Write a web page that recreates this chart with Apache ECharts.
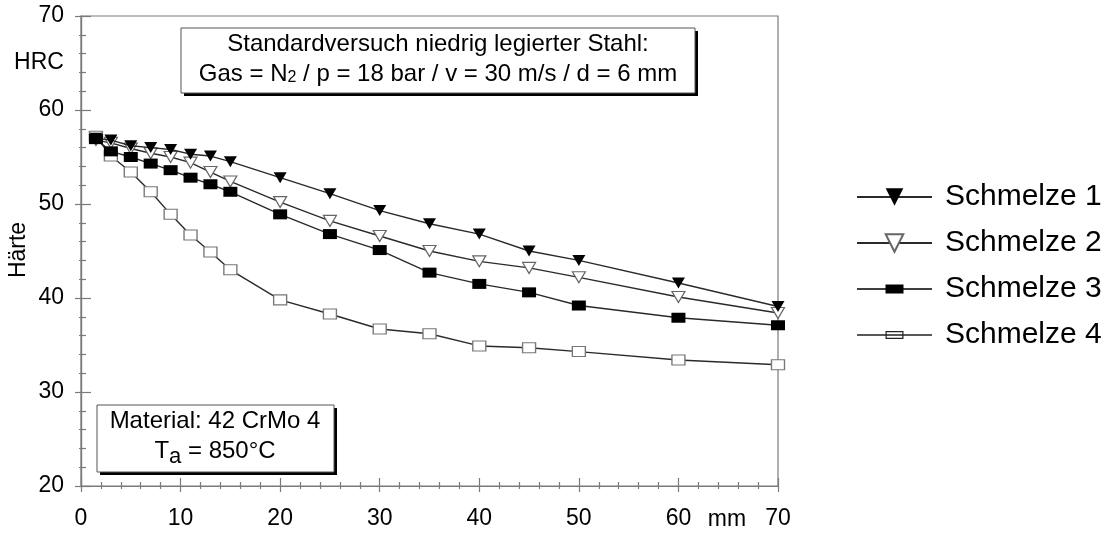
<!DOCTYPE html>
<html>
<head>
<meta charset="utf-8">
<script src="https://cdn.jsdelivr.net/npm/echarts@6/dist/echarts.min.js"></script>
<style>
  html, body { margin: 0; padding: 0; background: #fff; }
  #chart { width: 1111px; height: 536px; }
</style>
</head>
<body>
<div id="chart"></div>
<script>
// Distance from the quenched end (mm)
const distances = [1.5, 3, 5, 7, 9, 11, 13, 15, 20, 25, 30, 35, 40, 45, 50, 60, 70];

// Hardness HRC per melt
const schmelze1 = [57.0, 56.8, 56.2, 56.0, 55.8, 55.3, 55.1, 54.5, 52.8, 51.1, 49.3, 47.9, 46.8, 45.0, 44.0, 41.6, 39.1];
const schmelze2 = [56.8, 56.5, 55.9, 55.4, 55.0, 54.4, 53.4, 52.4, 50.2, 48.2, 46.6, 45.0, 43.9, 43.2, 42.2, 40.1, 38.4];
const schmelze3 = [56.9, 55.6, 55.0, 54.3, 53.6, 52.8, 52.1, 51.3, 48.9, 46.8, 45.1, 42.7, 41.5, 40.6, 39.2, 37.9, 37.1];
const schmelze4 = [57.2, 55.1, 53.4, 51.3, 48.9, 46.7, 44.9, 43.0, 39.8, 38.3, 36.7, 36.2, 34.9, 34.7, 34.3, 33.4, 32.9];

const seriesNames = ['Schmelze 1', 'Schmelze 2', 'Schmelze 3', 'Schmelze 4'];

const FONT = '"Liberation Sans", Arial, Helvetica, sans-serif';
const AXIS_GRAY = '#7a7a7a';
const LINE_COLOR = '#2a2a2a';

// Legend icons for the rectangle markers: line with a flat box on it (75 x 9 units)
const ICON_FILLED_RECT = 'path://M0,3.8H75V5.2H0Z M28.5,0H46.5V9H28.5Z';
const ICON_OPEN_RECT = 'path://M0,3.8H75V5.2H0Z M28.5,0.5H46.5V8.5H28.5Z M29.7,1.7V7.3H45.3V1.7Z';

function pairs(ys) {
  return distances.map((x, i) => [x, ys[i]]);
}

function tickStyle() {
  return { color: AXIS_GRAY, width: 1.2 };
}

const chart = echarts.init(document.getElementById('chart'), null, { renderer: 'canvas' });

const baseX = {
  type: 'value', min: 0, max: 70, interval: 10, position: 'bottom',
  axisLine: { show: true, onZero: false, lineStyle: tickStyle() },
  splitLine: { show: false }
};
const baseY = {
  type: 'value', min: 20, max: 70, interval: 10, position: 'left',
  axisLine: { show: true, onZero: false, lineStyle: tickStyle() },
  splitLine: { show: false }
};

const option = {
  backgroundColor: '#fff',
  animation: false,
  textStyle: { fontFamily: FONT },
  grid: {
    left: 81, right: 333, top: 16, bottom: 50,
    show: true, borderColor: AXIS_GRAY, borderWidth: 1.2, backgroundColor: 'transparent'
  },
  xAxis: [
    Object.assign({}, baseX, {
      axisTick: { show: true, inside: false, length: 6, lineStyle: tickStyle() },
      minorTick: { show: true, splitNumber: 5, length: 3, lineStyle: tickStyle() },
      axisLabel: { show: true, margin: 21, color: '#000', fontSize: 23, fontFamily: FONT }
    }),
    Object.assign({}, baseX, {
      axisTick: { show: true, inside: true, length: 8, lineStyle: tickStyle() },
      minorTick: { show: true, splitNumber: 5, length: 4, lineStyle: tickStyle() },
      axisLabel: { show: false }
    })
  ],
  yAxis: [
    Object.assign({}, baseY, {
      axisTick: { show: true, inside: false, length: 6, lineStyle: tickStyle() },
      minorTick: { show: true, splitNumber: 5, length: 2, lineStyle: tickStyle() },
      axisLabel: { show: true, margin: 17, color: '#000', fontSize: 23, fontFamily: FONT }
    }),
    Object.assign({}, baseY, {
      axisTick: { show: true, inside: true, length: 10, lineStyle: tickStyle() },
      minorTick: { show: true, splitNumber: 5, length: 5, lineStyle: tickStyle() },
      axisLabel: { show: false }
    })
  ],
  legend: {
    orient: 'vertical',
    left: 851, top: 175,
    itemWidth: 75, itemHeight: 22,
    itemGap: 12,
    symbolRotate: 'inherit',
    textStyle: { fontSize: 30, color: '#000', fontFamily: FONT, lineHeight: 34, padding: [0, 0, 0, 8] },
    data: [
      { name: seriesNames[0] },
      { name: seriesNames[1] },
      { name: seriesNames[2], icon: ICON_FILLED_RECT, itemStyle: { color: '#000', borderWidth: 0 } },
      { name: seriesNames[3], icon: ICON_OPEN_RECT, itemStyle: { color: '#222', borderWidth: 0 } }
    ]
  },
  series: [
    {
      name: seriesNames[0], type: 'line', data: pairs(schmelze1),
      symbol: 'triangle', symbolRotate: 180, symbolSize: [13, 11],
      lineStyle: { color: LINE_COLOR, width: 1.4 },
      itemStyle: { color: '#000', borderColor: '#000', borderWidth: 0 },
      z: 5
    },
    {
      name: seriesNames[1], type: 'line', data: pairs(schmelze2),
      symbol: 'triangle', symbolRotate: 180, symbolSize: [13, 11],
      lineStyle: { color: LINE_COLOR, width: 1.4 },
      itemStyle: { color: '#fff', borderColor: '#666', borderWidth: 1.2 },
      z: 4
    },
    {
      name: seriesNames[2], type: 'line', data: pairs(schmelze3),
      symbol: 'rect', symbolSize: [14, 10],
      lineStyle: { color: LINE_COLOR, width: 1.4 },
      itemStyle: { color: '#000', borderColor: '#000', borderWidth: 0 },
      z: 6
    },
    {
      name: seriesNames[3], type: 'line', data: pairs(schmelze4),
      symbol: 'rect', symbolSize: [13, 10],
      lineStyle: { color: LINE_COLOR, width: 1.4 },
      itemStyle: { color: '#fff', borderColor: '#777', borderWidth: 1.2 },
      z: 3
    }
  ],
  graphic: [
    // axis captions
    {
      type: 'text', x: 39, y: 63, z: 10,
      style: { text: 'HRC', fontSize: 23, fill: '#000', fontFamily: FONT, align: 'center', verticalAlign: 'middle' }
    },
    {
      type: 'text', x: 19, y: 250, rotation: Math.PI / 2, z: 10,
      style: { text: 'Härte', fontSize: 23, fill: '#000', fontFamily: FONT, align: 'center', verticalAlign: 'middle' }
    },
    {
      type: 'text', x: 727, y: 520, z: 10,
      style: { text: 'mm', fontSize: 23, fill: '#000', fontFamily: FONT, align: 'center', verticalAlign: 'middle' }
    },
    // test conditions box with drop shadow
    {
      type: 'rect', shape: { x: 184, y: 31, width: 514, height: 65 }, z: 8,
      style: { fill: '#000' }
    },
    {
      type: 'rect', shape: { x: 181, y: 28, width: 514, height: 65 }, z: 9,
      style: { fill: '#fff', stroke: '#555', lineWidth: 1 }
    },
    {
      type: 'text', x: 438, y: 44, z: 10,
      style: {
        text: 'Standardversuch niedrig legierter Stahl:',
        fontSize: 24, fill: '#000', fontFamily: FONT, align: 'center', verticalAlign: 'middle'
      }
    },
    {
      type: 'text', x: 438, y: 74, z: 10,
      style: {
        text: '{m|Gas = N}{s|2}{m| / p = 18 bar / v = 30 m/s / d = 6 mm}',
        fill: '#000', fontFamily: FONT, align: 'center', verticalAlign: 'middle',
        rich: {
          m: { fontSize: 24, lineHeight: 24, fontFamily: FONT, fill: '#000' },
          s: { fontSize: 16, lineHeight: 16, verticalAlign: 'bottom', fontFamily: FONT, fill: '#000' }
        }
      }
    },
    // material box with drop shadow
    {
      type: 'rect', shape: { x: 100, y: 408, width: 237, height: 67 }, z: 8,
      style: { fill: '#000' }
    },
    {
      type: 'rect', shape: { x: 97, y: 405, width: 237, height: 67 }, z: 9,
      style: { fill: '#fff', stroke: '#555', lineWidth: 1 }
    },
    {
      type: 'text', x: 215, y: 421, z: 10,
      style: {
        text: 'Material: 42 CrMo 4',
        fontSize: 24, fill: '#000', fontFamily: FONT, align: 'center', verticalAlign: 'middle'
      }
    },
    {
      type: 'text', x: 215, y: 451, z: 10,
      style: {
        text: '{m|T}{s|a}{m| = 850°C}',
        fill: '#000', fontFamily: FONT, align: 'center', verticalAlign: 'middle',
        rich: {
          m: { fontSize: 24, lineHeight: 34, fontFamily: FONT, fill: '#000' },
          s: { fontSize: 22, lineHeight: 18, verticalAlign: 'bottom', fontFamily: FONT, fill: '#000' }
        }
      }
    }
  ]
};

chart.setOption(option);
</script>
</body>
</html>
